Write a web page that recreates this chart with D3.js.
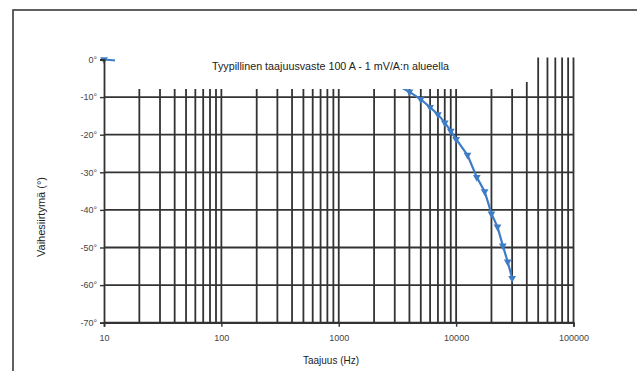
<!DOCTYPE html>
<html>
<head>
<meta charset="utf-8">
<script src="https://cdn.jsdelivr.net/npm/d3@7"></script>
<style>
  body { margin: 0; background: #fff; }
  svg { display: block; }
</style>
</head>
<body>
<svg class="chart"></svg>
<script>
const width = 637;
const height = 371;

// data
const freqs = [10, 3000, 4000, 5000, 6000, 7000, 8000, 9000, 10000, 12500, 15000, 17500, 20000, 22500, 25000, 27500, 30000];
const phase = [0, -6.5, -8.6, -10.6, -12.7, -14.6, -16.8, -19.0, -21.2, -25.4, -31.3, -35.1, -41.0, -44.5, -49.5, -53.8, -58.2];
const yTicks = [0, -10, -20, -30, -40, -50, -60, -70];
const xTicks = [10, 100, 1000, 10000, 100000];
const title = 'Tyypillinen taajuusvaste 100 A - 1 mV/A:n alueella';

const chart = d3.select('.chart')
    .attr('width', width)
    .attr('height', height);

const x = d3.scaleLog().domain([10, 100000]).range([104, 573.5]);
const y = d3.scaleLinear().domain([-70, 0]).range([322.7, 59.5]);

const fontFam = 'Liberation Sans, Arial, sans-serif';

// outer frame
chart.append('rect')
    .attr('x', 13).attr('y', 10)
    .attr('width', 640).attr('height', 380)
    .attr('fill', 'none')
    .attr('stroke', '#3a3a3a')
    .attr('stroke-width', 1.6);

/*----- GRID ------*/
const minor = [];
for (let d = 10; d < 100000; d *= 10) {
    for (let k = 2; k <= 10; k++) minor.push(d * k);
}

chart.append('g')
    .selectAll('line')
    .data(minor)
    .enter()
    .append('line')
    .attr('x1', d => x(d)).attr('x2', d => x(d))
    .attr('y1', y(-70))
    .attr('y2', y(0) - 2)
    .attr('stroke', '#333')
    .attr('stroke-width', 1.8);

chart.append('g')
    .selectAll('line')
    .data(yTicks.filter(d => d !== 0))
    .enter()
    .append('line')
    .attr('x1', x(10)).attr('x2', x(100000))
    .attr('y1', d => y(d)).attr('y2', d => y(d))
    .attr('stroke', '#333')
    .attr('stroke-width', 1.8);

/*----- SERIES ------*/
const pts = freqs.map((f, i) => [f, phase[i]]);

chart.append('path')
    .datum(pts)
    .attr('fill', 'none')
    .attr('stroke', '#3f7cc6')
    .attr('stroke-width', 2.2)
    .attr('d', d3.line().x(d => x(d[0])).y(d => y(d[1])));

chart.append('g')
    .selectAll('path')
    .data(pts)
    .enter()
    .append('path')
    .attr('d', d3.symbol().type(d3.symbolTriangle).size(26))
    .attr('transform', d => `translate(${x(d[0])},${y(d[1])}) rotate(180)`)
    .attr('fill', '#3f7cc6');

// title box hides the top of the grid
chart.append('rect')
    .attr('x', 115).attr('y', 44)
    .attr('width', 409).attr('height', 45)
    .attr('fill', '#fff');
chart.append('rect')
    .attr('x', 524).attr('y', 44)
    .attr('width', 8).attr('height', 38)
    .attr('fill', '#fff');

chart.append('text')
    .attr('x', 212).attr('y', 70)
    .attr('textLength', 237)
    .attr('lengthAdjust', 'spacingAndGlyphs')
    .attr('font-family', fontFam)
    .attr('font-size', 11.5)
    .attr('fill', '#222')
    .text(title);

/*----- AXES ------*/
const xAxis = d3.axisBottom(x)
    .tickValues(xTicks)
    .tickFormat(d3.format('d'))
    .tickSize(4)
    .tickPadding(8);

const yAxis = d3.axisLeft(y)
    .tickValues(yTicks)
    .tickFormat(d => d + '°')
    .tickSize(4)
    .tickPadding(3);

chart.append('g')
    .attr('id', 'x-axis')
    .attr('transform', `translate(0, ${y(-70)})`)
    .style('color', '#333')
    .style('font-size', '9px')
    .style('font-family', fontFam)
    .call(xAxis)
    .call(g => g.select('.domain').attr('stroke-width', 1.8))
    .call(g => g.selectAll('line').attr('stroke-width', 1.4))
    .call(g => g.selectAll('text').attr('fill', '#444'));

chart.append('g')
    .attr('id', 'y-axis')
    .attr('transform', `translate(${x(10)}, 0)`)
    .style('color', '#333')
    .style('font-size', '9px')
    .style('font-family', fontFam)
    .call(yAxis)
    .call(g => g.select('.domain').attr('stroke-width', 1.8))
    .call(g => g.selectAll('line').attr('stroke-width', 1.4))
    .call(g => g.selectAll('text').attr('fill', '#444'));

// axis titles
chart.append('text')
    .attr('x', 303).attr('y', 364)
    .attr('textLength', 56)
    .attr('lengthAdjust', 'spacingAndGlyphs')
    .attr('font-family', fontFam)
    .attr('font-size', 11.5)
    .attr('fill', '#222')
    .text('Taajuus (Hz)');

chart.append('text')
    .attr('transform', 'translate(45, 257) rotate(-90)')
    .attr('textLength', 80)
    .attr('lengthAdjust', 'spacingAndGlyphs')
    .attr('font-family', fontFam)
    .attr('font-size', 11.5)
    .attr('fill', '#222')
    .text('Vaihesiirtymä (°)');
</script>
</body>
</html>
